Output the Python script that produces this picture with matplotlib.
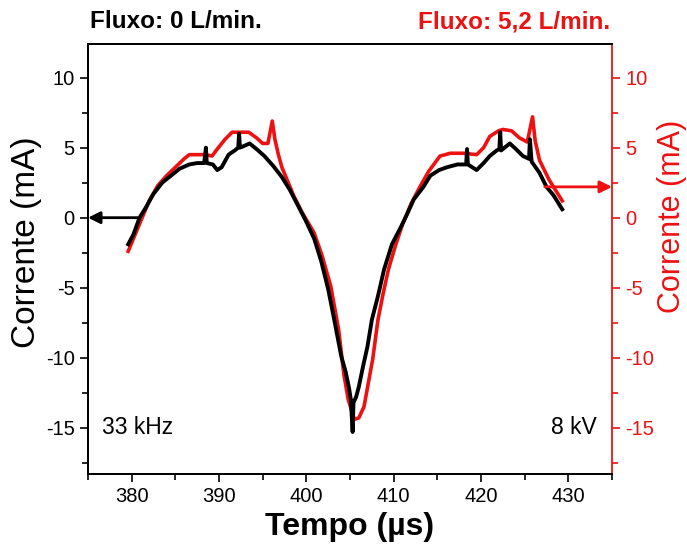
import matplotlib
matplotlib.use("Agg")
import matplotlib.pyplot as plt
from matplotlib.ticker import MultipleLocator

plt.rcParams["font.family"] = ["Liberation Sans", "DejaVu Sans"]
plt.rcParams["axes.unicode_minus"] = False

RED = "#ee1111"

# Fluxo: 0 L/min (black trace)
t_0 = [379.6, 380.2, 380.9, 381.6, 382.5, 383.5, 384.5, 385.5, 386.6, 387.5,
       388.3, 388.5, 388.6, 389.3, 389.8, 390.3, 391.1, 391.8, 392.2, 392.3,
       392.4, 392.8, 393.5, 394.3, 395.2, 396.2, 397.2, 398.1, 399.1, 400.0,
       400.9, 401.7, 402.5, 403.2, 404.0, 404.5, 404.9, 405.1, 405.3, 405.4,
       405.7, 406.0, 406.5, 407.0, 407.5, 408.2, 408.9, 409.8, 410.8, 411.5,
       412.3, 413.4, 414.2, 415.2, 416.1, 417.3, 418.3, 418.4, 418.5, 419.5,
       420.3, 421.0, 421.8, 422.1, 422.2, 422.3, 423.3, 424.0, 424.8, 425.5,
       425.6, 425.8, 426.7, 427.5, 428.3, 429.3]
i_0 = [-1.9, -1.2, 0.0, 0.7, 1.7, 2.5, 3.0, 3.5, 3.8, 3.9,
       3.9, 5.0, 3.9, 3.8, 3.4, 3.6, 4.5, 4.8, 5.0, 6.0,
       5.0, 5.1, 5.3, 4.9, 4.4, 3.7, 2.9, 2.0, 0.8, -0.3,
       -1.5, -3.1, -5.1, -7.3, -9.9, -11.0, -12.2, -13.0, -15.3, -13.2,
       -12.8, -12.1, -10.6, -9.2, -7.3, -5.6, -3.7, -1.9, -0.7, 0.2,
       1.3, 2.2, 3.0, 3.4, 3.6, 3.8, 3.8, 4.9, 3.8, 3.4,
       3.9, 4.4, 4.8, 4.9, 6.1, 4.8, 5.3, 4.9, 4.4, 4.2,
       5.6, 4.0, 3.2, 2.2, 1.6, 0.6]

# Fluxo: 5,2 L/min (red trace)
t_52 = [379.6, 380.4, 381.2, 382.0, 383.0, 384.0, 385.0, 386.0, 386.6, 387.5,
        388.5, 389.2, 389.8, 390.7, 391.5, 392.5, 393.4, 394.3, 395.0, 395.6,
        396.1, 396.4, 396.8, 397.2, 398.0, 398.6, 399.5, 400.9, 401.8, 402.8,
        403.7, 404.3, 404.8, 405.5, 406.0, 406.6, 407.6, 408.2, 408.8, 409.4,
        410.2, 411.0, 412.0, 413.0, 414.0, 415.3, 416.5, 418.0, 419.5,
        420.3, 421.0, 422.0, 422.5, 423.5, 424.4, 425.3, 425.9, 426.2, 426.7,
        427.8, 429.0, 429.3]
i_52 = [-2.4, -1.2, 0.0, 1.2, 2.3, 3.0, 3.6, 4.2, 4.5, 4.5,
        4.5, 4.4, 4.9, 5.6, 6.1, 6.1, 6.1, 5.7, 5.3, 5.3,
        6.9, 5.6, 4.5, 3.6, 2.4, 1.5, 0.4, -1.1, -2.7, -4.9,
        -8.0, -11.2, -13.0, -14.4, -14.3, -13.5, -10.1, -7.3, -5.4, -3.7,
        -2.0, -0.5, 1.0, 2.2, 3.3, 4.4, 4.6, 4.6, 4.5,
        5.0, 5.8, 6.2, 6.3, 6.2, 5.7, 5.4, 7.2, 5.5, 4.1,
        2.7, 1.5, 1.2]

W, H = 687, 545
fig = plt.figure(figsize=(W / 100, H / 100), dpi=100)
ax = fig.add_axes([88 / W, 1 - 474 / H, 524 / W, 430 / H])
ax2 = ax.twinx()

ax2.plot(t_52, i_52, color=RED, lw=2.6, zorder=2)
ax.plot(t_0, i_0, color="black", lw=2.8, zorder=3)
ax.set_zorder(ax2.get_zorder() + 1)
ax.patch.set_visible(False)

for a in (ax, ax2):
    a.set_xlim(375, 435)
    a.set_ylim(-18.3, 12.4)
    a.yaxis.set_major_locator(MultipleLocator(5))
    a.yaxis.set_minor_locator(MultipleLocator(2.5))
ax.xaxis.set_major_locator(MultipleLocator(10))
ax.xaxis.set_minor_locator(MultipleLocator(5))

ax.tick_params(which="both", direction="out", labelsize=14.5, width=1.2)
ax.tick_params(which="major", length=6)
ax.tick_params(which="minor", length=4)
ax2.tick_params(which="both", direction="out", labelsize=14.5, width=1.2,
                colors=RED)
ax2.tick_params(which="major", length=6)
ax2.tick_params(which="minor", length=4)

for a in (ax, ax2):
    for s in a.spines.values():
        s.set_linewidth(1.3)
ax2.spines["right"].set_color(RED)
ax.spines["right"].set_visible(False)

ax.set_ylabel("Corrente (mA)", fontsize=24)
ax.yaxis.set_label_coords(-0.088, 0.54)
ax2.set_ylabel("Corrente (mA)", fontsize=22, color=RED)
ax2.yaxis.set_label_coords(1.086, 0.6)
ax.set_xlabel("Tempo (\u00b5s)", fontsize=23, fontweight="bold", labelpad=4)

# arrows pointing to the axis each trace belongs to
ax.annotate("", xy=(375, 0), xytext=(380.9, 0),
            arrowprops=dict(arrowstyle="-|>", color="black", lw=2,
                            mutation_scale=18, shrinkA=0, shrinkB=0))
ax.annotate("", xy=(435, 2.2), xytext=(427.3, 2.2),
            arrowprops=dict(arrowstyle="-|>", color=RED, lw=2,
                            mutation_scale=18, shrinkA=0, shrinkB=0))

ax.text(376.6, -15, "33 kHz", fontsize=16.5, va="center", ha="left")
ax.text(433.3, -15, "8 kV", fontsize=16.5, va="center", ha="right")

fig.text(90 / W, 1 - 22 / H, "Fluxo: 0 L/min.", fontsize=17.5,
         fontweight="bold", va="center", ha="left")
fig.text(610 / W, 1 - 22 / H, "Fluxo: 5,2 L/min.", fontsize=17.5,
         fontweight="bold", va="center", ha="right", color=RED)

fig.savefig("out.png", dpi=100)
